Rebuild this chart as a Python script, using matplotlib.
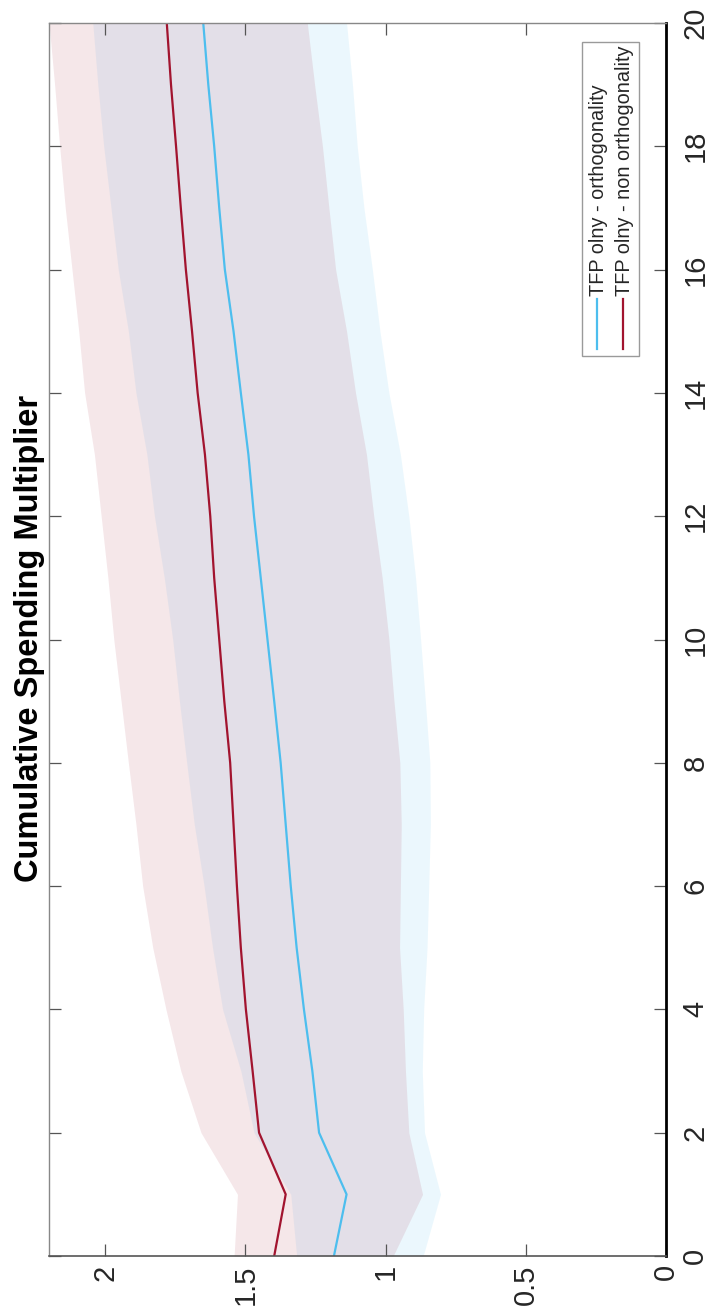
import matplotlib.pyplot as plt
from matplotlib.patches import Rectangle

plt.rcParams['font.family'] = ['Liberation Sans', 'DejaVu Sans']

# horizon (quarters) and cumulative multipliers
horizon = list(range(21))

ortho_mean = [1.184, 1.139, 1.237, 1.261, 1.291, 1.317, 1.338, 1.356, 1.374, 1.397, 1.421,
              1.445, 1.469, 1.489, 1.516, 1.542, 1.573, 1.593, 1.611, 1.632, 1.650]
ortho_hi = [1.317, 1.338, 1.469, 1.516, 1.581, 1.617, 1.647, 1.682, 1.709, 1.735, 1.759,
            1.789, 1.824, 1.851, 1.890, 1.917, 1.953, 1.979, 2.005, 2.026, 2.044]
ortho_lo = [0.866, 0.804, 0.861, 0.869, 0.864, 0.852, 0.846, 0.840, 0.842, 0.858, 0.875,
            0.893, 0.917, 0.947, 0.988, 1.020, 1.047, 1.077, 1.101, 1.118, 1.139]

nonortho_mean = [1.397, 1.356, 1.451, 1.474, 1.498, 1.516, 1.530, 1.542, 1.554, 1.575, 1.593,
                 1.611, 1.625, 1.644, 1.670, 1.690, 1.712, 1.730, 1.747, 1.765, 1.780]
nonortho_hi = [1.540, 1.528, 1.658, 1.730, 1.783, 1.830, 1.866, 1.890, 1.917, 1.943, 1.969,
               1.990, 2.014, 2.038, 2.073, 2.094, 2.118, 2.142, 2.162, 2.180, 2.200]
nonortho_lo = [0.973, 0.868, 0.917, 0.929, 0.937, 0.950, 0.947, 0.944, 0.949, 0.970, 0.988,
               1.012, 1.042, 1.068, 1.107, 1.139, 1.178, 1.202, 1.225, 1.253, 1.279]

x_ticks = [0, 0.5, 1, 1.5, 2]
x_tick_labels = ['0', '0.5', '1', '1.5', '2']
h_ticks = list(range(0, 21, 2))

labels = ['TFP olny - orthogonality', 'TFP olny - non orthogonality']

BLUE = '#4DBEEE'
RED = '#A2142F'

W, H = 708, 1315
fig = plt.figure(figsize=(W / 100, H / 100), dpi=100)
# the whole chart is turned a quarter to the left: horizon runs upward, multiplier leftward
ax = fig.add_axes([49 / W, (H - 1256) / H, 617 / W, 1233 / H])

ax.fill_betweenx(horizon, ortho_lo, ortho_hi, color=BLUE, alpha=0.11, lw=0)
ax.fill_betweenx(horizon, nonortho_lo, nonortho_hi, color=RED, alpha=0.1, lw=0)
ax.plot(ortho_mean, horizon, color=BLUE, lw=1.6)
ax.plot(nonortho_mean, horizon, color=RED, lw=1.6)

ax.set_xlim(2.2, 0)
ax.set_ylim(0, 20)

ax.set_xticks(x_ticks)
ax.set_xticklabels(x_tick_labels, rotation=90, va='top', ha='center')
ax.set_yticks(h_ticks)
ax.set_yticklabels([str(t) for t in h_ticks], rotation=90, va='center', ha='left')

ax.tick_params(axis='both', direction='in', length=8.5, width=0.9, colors='#555555',
               labelcolor='#262626', labelsize=21)
ax.tick_params(axis='x', top=True, bottom=True, labeltop=False, labelbottom=True, pad=6)
ax.tick_params(axis='y', left=True, right=True, labelleft=False, labelright=True, pad=11)

for side in ['left', 'top']:
    ax.spines[side].set_color('#888888')
    ax.spines[side].set_linewidth(1.0)
ax.spines['bottom'].set_color('#555555')
ax.spines['bottom'].set_linewidth(1.2)
ax.spines['right'].set_color('black')
ax.spines['right'].set_linewidth(2.0)

fig.text(30 / W, (H - 638) / H, 'Cumulative Spending Multiplier', rotation=90,
         ha='center', va='center', fontsize=23.5, fontweight='bold')

# legend drawn by hand, since it is turned as well
fig.patches.append(Rectangle((582 / W, (H - 356) / H), 57 / W, 314 / H,
                             transform=fig.transFigure, facecolor='white',
                             edgecolor='#9a9a9a', lw=1.0, zorder=5))
for col, lab, xc in zip([BLUE, RED], labels, [597, 623]):
    fig.lines.append(plt.Line2D([xc / W, xc / W], [(H - 349) / H, (H - 299) / H],
                                transform=fig.transFigure, color=col, lw=1.6, zorder=6))
    fig.text((xc + 1) / W, (H - 296) / H, lab, rotation=90, ha='center', va='bottom',
             fontsize=14.3, color='#262626', zorder=7)

fig.savefig('out.png', dpi=100)
